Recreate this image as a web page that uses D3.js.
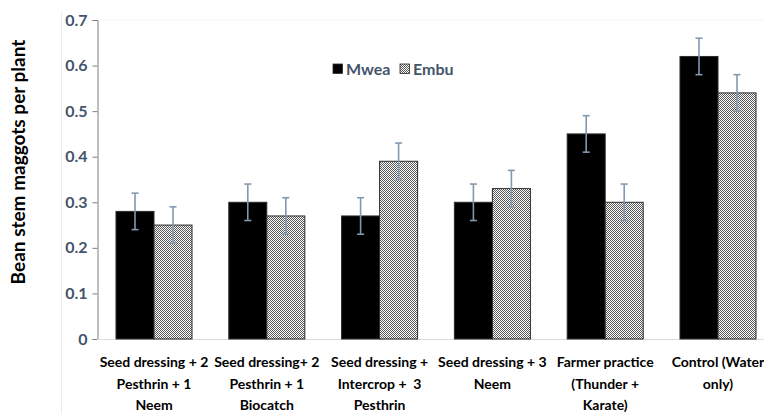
<!DOCTYPE html>
<html>
<head>
<meta charset="utf-8">
<script src="https://cdn.jsdelivr.net/npm/d3@7"></script>
<style>
  body { margin: 0; background: #fff; }
  svg { display: block; font-family: Lato, 'Open Sans', sans-serif; font-weight: bold; }
</style>
</head>
<body>
<div id="graf"></div>
<script>
// datos
categorias = [
  ['Seed dressing + 2', 'Pesthrin + 1', 'Neem'],
  ['Seed dressing+ 2', 'Pesthrin + 1', 'Biocatch'],
  ['Seed dressing +', 'Intercrop +  3', 'Pesthrin'],
  ['Seed dressing + 3', 'Neem'],
  ['Farmer practice', '(Thunder +', 'Karate)'],
  ['Control (Water', 'only)']
]
series = ['Mwea', 'Embu']
mwea = [0.28, 0.30, 0.27, 0.30, 0.45, 0.62]
embu = [0.25, 0.27, 0.39, 0.33, 0.30, 0.54]
errMwea = [0.04, 0.04, 0.04, 0.04, 0.04, 0.04]
errEmbu = [0.04, 0.04, 0.04, 0.04, 0.04, 0.04]
yTicks = [0, 0.1, 0.2, 0.3, 0.4, 0.5, 0.6, 0.7]

ancho_total = 764
alto_total = 414

svg = d3.select('#graf').append('svg')
        .attr('width', ancho_total)
        .attr('height', alto_total)

// trama fina para la serie Embu
defs = svg.append('defs')
pat = defs.append('pattern')
          .attr('id', 'rayas')
          .attr('patternUnits', 'userSpaceOnUse')
          .attr('width', 2).attr('height', 2)
pat.append('rect').attr('width', 2).attr('height', 2).attr('fill', '#ffffff')
pat.append('rect').attr('x', 0).attr('y', 0).attr('width', 1).attr('height', 1).attr('fill', '#5a5a5a')
pat.append('rect').attr('x', 1).attr('y', 1).attr('width', 1).attr('height', 1).attr('fill', '#5a5a5a')

// borde tenue del area de trazado
svg.append('line')
   .attr('x1', 61.5).attr('x2', 61.5).attr('y1', 12).attr('y2', 414)
   .attr('stroke', '#ececec')

// escaladores
x0 = d3.scaleBand().domain(d3.range(categorias.length)).range([97.6, 774.4]).paddingInner(0.326).paddingOuter(0.163)
x1 = d3.scaleBand().domain(series).range([0, x0.bandwidth()])
y = d3.scaleLinear().domain([0, 0.7]).range([339, 20])

// linea superior muy tenue
svg.append('line')
   .attr('x1', 97).attr('x2', 764).attr('y1', y(0.7)).attr('y2', y(0.7))
   .attr('stroke', '#f4f4f4')

// eje Y
ejeY = d3.axisLeft(y).tickValues(yTicks).tickFormat(d => d === 0 ? '0' : d3.format('.1f')(d)).tickSize(5).tickPadding(5)
gy = svg.append('g').attr('transform', 'translate(97.5,0)').call(ejeY)
gy.select('.domain').attr('stroke', '#7f7f7f')
gy.selectAll('.tick line').attr('stroke', '#7f7f7f')
gy.selectAll('.tick text')
  .attr('fill', '#44546a')
  .attr('font-size', '16px')
  .attr('font-weight', 'bold')
  .attr('font-family', 'Lato, sans-serif')

// eje X (linea base)
svg.append('line')
   .attr('x1', 97).attr('x2', 764).attr('y1', y(0) + 0.5).attr('y2', y(0) + 0.5)
   .attr('stroke', '#d9dde3')

datos = []
categorias.forEach((c, i) => {
  datos.push({ i: i, s: 'Mwea', v: mwea[i], e: errMwea[i] })
  datos.push({ i: i, s: 'Embu', v: embu[i], e: errEmbu[i] })
})

g = svg.append('g')
g.selectAll('rect.barra')
 .data(datos)
 .enter().append('rect')
   .attr('class', 'barra')
   .attr('x', d => x0(d.i) + x1(d.s))
   .attr('y', d => y(d.v))
   .attr('width', x1.bandwidth())
   .attr('height', d => y(0) - y(d.v))
   .attr('fill', d => d.s === 'Mwea' ? '#000000' : 'url(#rayas)')
   .attr('stroke', '#2b2b2b')
   .attr('stroke-width', 1)

// barras de error
eb = g.selectAll('g.err')
      .data(datos)
      .enter().append('g')
      .attr('class', 'err')
      .attr('transform', d => `translate(${x0(d.i) + x1(d.s) + x1.bandwidth() / 2},0)`)
eb.append('line')
  .attr('y1', d => y(d.v + d.e)).attr('y2', d => y(d.v - d.e))
  .attr('stroke', '#8497b0').attr('stroke-width', 1.6)
eb.append('line')
  .attr('x1', -3.5).attr('x2', 3.5)
  .attr('y1', d => y(d.v + d.e)).attr('y2', d => y(d.v + d.e))
  .attr('stroke', '#8497b0').attr('stroke-width', 1.6)
eb.append('line')
  .attr('x1', -3.5).attr('x2', 3.5)
  .attr('y1', d => y(d.v - d.e)).attr('y2', d => y(d.v - d.e))
  .attr('stroke', '#8497b0').attr('stroke-width', 1.6)

// etiquetas de categorias
etiquetas = svg.selectAll('text.cat')
  .data(categorias)
  .enter().append('text')
    .attr('class', 'cat')
    .attr('text-anchor', 'middle')
    .attr('font-size', '14px')
    .attr('fill', '#000')
etiquetas.each(function (lineas, i) {
  const t = d3.select(this)
  lineas.forEach((l, k) => {
    t.append('tspan')
     .attr('x', x0(i) + x0.bandwidth() / 2)
     .attr('y', 367 + k * 21.5)
     .attr('xml:space', 'preserve')
     .text(l)
  })
})

// titulo del eje Y
svg.append('text')
   .attr('transform', 'translate(25,162) rotate(-90)')
   .attr('text-anchor', 'middle')
   .attr('font-size', '19px')
   .attr('fill', '#000')
   .text('Bean stem maggots per plant')

// leyenda
leyX = [333, 400]
series.forEach((s, i) => {
  svg.append('rect')
     .attr('x', leyX[i]).attr('y', 64)
     .attr('width', 9.5).attr('height', 9.5)
     .attr('fill', s === 'Mwea' ? '#000' : 'url(#rayas)')
     .attr('stroke', '#2b2b2b').attr('stroke-width', 0.8)
  svg.append('text')
     .attr('x', leyX[i] + 13).attr('y', 75)
     .attr('font-size', '16px')
     .attr('fill', '#44546a')
     .text(s)
})
</script>
</body>
</html>
